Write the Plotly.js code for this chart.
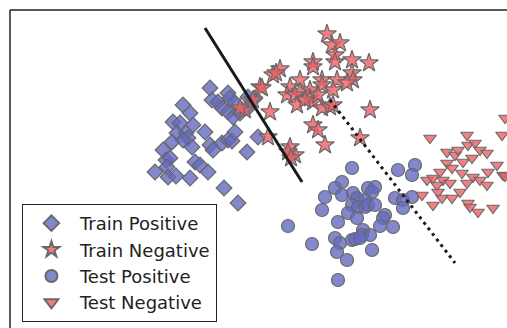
<!DOCTYPE html>
<html>
<head>
<meta charset="utf-8">
<script src="https://cdn.plot.ly/plotly-3.0.1.min.js"></script>
<style>html,body{margin:0;padding:0;background:#fff;}#chart{width:507px;height:328px;}</style>
</head>
<body>
<div id="chart"></div>
<script>
// Values (x to the right, y downward as drawn)
const trainPosX = [183,210,212,218,222,228,230,235,228,233,240,248,255,248,173,190,193,180,177,186,188,183,192,172,163,166,170,167,155,168,176,190,195,200,208,205,210,213,222,228,232,235,247,258,224,238];
const trainPosY = [105,88,100,102,108,93,98,103,112,117,113,108,98,97,122,113,125,123,133,133,138,140,147,142,150,160,158,167,172,177,176,178,162,165,172,132,145,150,143,140,141,132,152,137,188,203];

const trainNegX = [327,332,340,335,335,352,369,313,313,280,273,300,322,337,352,353,347,260,290,300,310,322,333,287,295,310,297,313,322,330,333,270,370,313,318,325,360,268,245,290,295,240,253,262,276,288,291,305,318];
const trainNegY = [34,45,43,55,62,60,63,62,67,69,75,80,80,80,73,80,83,87,87,92,90,85,90,95,95,98,105,102,108,107,105,112,110,125,130,145,138,137,110,147,155,108,100,88,73,152,158,100,95];

const testPosX = [352,342,335,342,325,322,353,357,368,375,372,365,352,358,365,368,375,348,357,338,385,383,380,393,288,335,340,363,362,370,352,355,360,337,312,347,372,338,398,415,412,395,403,403,412];
const testPosY = [168,182,188,195,197,210,193,198,188,187,192,200,205,207,207,205,205,213,218,222,215,218,226,227,226,238,243,230,235,235,240,239,238,252,244,260,250,280,170,165,175,198,200,208,197];

const testNegX = [430,467,502,447,455,468,475,480,487,472,463,447,440,452,462,473,480,488,497,503,427,433,443,437,450,467,487,422,438,442,460,452,433,468,478,493,470,505,505,458];
const testNegY = [138,135,135,152,155,145,143,150,153,158,162,163,172,168,173,177,180,172,165,175,180,178,180,185,183,183,185,195,192,198,192,198,205,203,212,208,207,118,176,150];

const solidLineX = [205, 302];
const solidLineY = [28, 182];
const dottedLineX = [330, 455];
const dottedLineY = [100, 263];

const blueFill = 'rgba(100,106,192,0.8)';
const pinkFill = 'rgba(240,95,100,0.8)';
const edge = {color: 'rgb(105,105,105)', width: 1.2};

const traces = [
  {x: trainPosX, y: trainPosY, name: 'Train Positive', type: 'scatter', mode: 'markers',
   marker: {symbol: 'diamond', size: 12, color: blueFill, line: edge}},
  {x: trainNegX, y: trainNegY, name: 'Train Negative', type: 'scatter', mode: 'markers',
   marker: {symbol: 'star', size: 14, color: pinkFill, line: edge}},
  {x: testPosX, y: testPosY, name: 'Test Positive', type: 'scatter', mode: 'markers',
   marker: {symbol: 'circle', size: 13, color: blueFill, line: edge}},
  {x: testNegX, y: testNegY, name: 'Test Negative', type: 'scatter', mode: 'markers',
   marker: {symbol: 'triangle-down', size: 11, color: pinkFill, line: edge}},
  {x: solidLineX, y: solidLineY, type: 'scatter', mode: 'lines', showlegend: false,
   line: {color: '#1a1a1a', width: 3}},
  {x: dottedLineX, y: dottedLineY, type: 'scatter', mode: 'lines', showlegend: false,
   line: {color: '#1a1a1a', width: 3, dash: '3px,4px'}}
];

const layout = {
  width: 507, height: 328,
  margin: {l: 10, t: 10, r: 0, b: 0, pad: 0},
  paper_bgcolor: '#fff', plot_bgcolor: '#fff',
  font: {family: 'DejaVu Sans', size: 16, color: '#222'},
  xaxis: {range: [10, 507], showgrid: false, zeroline: false, showticklabels: false, ticks: '', showline: false},
  yaxis: {range: [328, 10], showgrid: false, zeroline: false, showticklabels: false, ticks: '', showline: false},
  shapes: [
    {type: 'line', xref: 'paper', yref: 'paper', x0: 0, y0: 0, x1: 0, y1: 1, line: {color: '#222', width: 1.5}},
    {type: 'line', xref: 'paper', yref: 'paper', x0: 0, y0: 1, x1: 1, y1: 1, line: {color: '#222', width: 1.5}}
  ],
  showlegend: true,
  legend: {
    x: 0.024, y: 0.019, xanchor: 'left', yanchor: 'bottom',
    bgcolor: '#fff', bordercolor: '#222', borderwidth: 1,
    font: {family: 'DejaVu Sans', size: 18, color: '#222'},
    itemwidth: 47, itemsizing: 'constant', tracegroupgap: 0
  }
};

Plotly.newPlot('chart', traces, layout, {displayModeBar: false, staticPlot: true});
</script>
</body>
</html>
